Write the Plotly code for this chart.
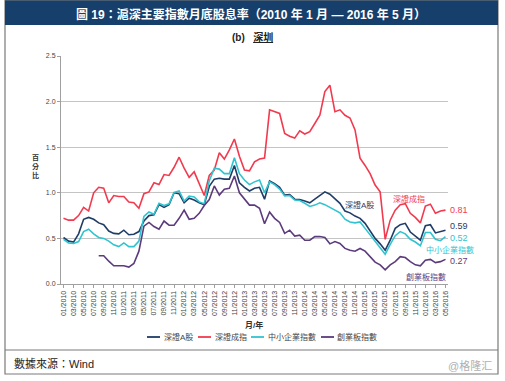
import plotly.graph_objects as go

months = [f"{m:02d}/{y}" for y in range(2010, 2017) for m in range(1, 13)][:77]
tick_labels = months[::2]

sz_a = [0.51, 0.47, 0.46, 0.55, 0.71, 0.73, 0.71, 0.67, 0.65, 0.58,
        0.555, 0.55, 0.59, 0.54, 0.545, 0.575, 0.69, 0.75, 0.76, 0.87,
        0.84, 0.87, 1.00, 0.99, 0.89, 0.94, 0.92, 0.89, 0.87, 1.07,
        1.15, 1.16, 1.15, 1.15, 1.30, 1.11, 1.06, 1.02, 1.05, 1.06,
        0.93, 1.13, 1.10, 1.06, 0.975, 0.98, 0.93, 0.925, 0.91, 0.89,
        0.93, 0.97, 1.01, 0.985, 0.93, 0.885, 0.80, 0.78, 0.745, 0.72,
        0.665, 0.58, 0.50, 0.44, 0.37, 0.48, 0.61, 0.65, 0.665, 0.57,
        0.52, 0.48, 0.64, 0.65, 0.56, 0.575, 0.59]

sz_comp = [0.72, 0.70, 0.70, 0.75, 0.84, 0.80, 1.00, 1.06, 1.05, 0.89,
           0.97, 0.96, 0.96, 0.90, 0.89, 0.83, 0.99, 1.01, 1.11, 1.09,
           1.20, 1.19, 1.28, 1.39, 1.27, 1.17, 1.23, 1.11, 0.97, 1.19,
           1.25, 1.44, 1.37, 1.47, 1.59, 1.40, 1.25, 1.24, 1.34, 1.37,
           1.38, 1.91, 1.89, 1.87, 1.65, 1.62, 1.60, 1.68, 1.645, 1.67,
           1.76, 1.85, 2.11, 2.18, 1.89, 1.91, 1.85, 1.82, 1.69, 1.38,
           1.30, 1.21, 1.085, 1.01, 0.49, 0.70, 0.81, 0.87, 0.88, 0.775,
           0.73, 0.67, 0.855, 0.875, 0.775, 0.80, 0.81]

sme = [0.49, 0.45, 0.445, 0.465, 0.575, 0.60, 0.55, 0.51, 0.50, 0.47,
       0.43, 0.41, 0.45, 0.41, 0.41, 0.47, 0.74, 0.79, 0.765, 0.885,
       0.86, 0.88, 1.005, 1.02, 0.91, 0.965, 0.955, 0.90, 0.88, 1.13,
       1.27, 1.26, 1.21, 1.21, 1.385, 1.21, 1.14, 1.09, 1.12, 1.14,
       1.00, 1.12, 1.09, 1.04, 0.965, 0.97, 0.92, 0.915, 0.885, 0.85,
       0.865, 0.89, 0.87, 0.84, 0.81, 0.78, 0.71, 0.68, 0.67, 0.68,
       0.61, 0.54, 0.46, 0.40, 0.325, 0.435, 0.53, 0.575, 0.55, 0.49,
       0.46, 0.42, 0.565, 0.565, 0.49, 0.475, 0.52]

chinext = [None, None, None, None, None, None, None, 0.31, 0.31, 0.25,
           0.20, 0.20, 0.20, 0.185, 0.225, 0.36, 0.635, 0.675, 0.63, 0.60,
           0.69, 0.645, 0.645, 0.72, 0.81, 0.71, 0.72, 0.775, 0.86, 0.925,
           1.075, 0.975, 1.04, 1.05, 1.185, 1.00, 0.93, 0.865, 0.865, 0.83,
           0.66, 0.79, 0.72, 0.675, 0.555, 0.59, 0.525, 0.535, 0.48, 0.48,
           0.52, 0.52, 0.51, 0.44, 0.465, 0.445, 0.39, 0.37, 0.36, 0.39,
           0.36, 0.30, 0.24, 0.21, 0.155, 0.21, 0.245, 0.30, 0.29, 0.245,
           0.21, 0.20, 0.26, 0.27, 0.235, 0.245, 0.27]

names = ["深證A股", "深證成指", "中小企業指數", "創業板指數"]
colors = ["#1f3d66", "#f23a4f", "#2fc4d0", "#5c3b7c"]
series = [sz_a, sz_comp, sme, chinext]

W, H = 505, 381
ML, MR, MT, MB = 61, 57, 56, 97
PW, PH = W - ML - MR, H - MT - MB


def xp(px):
    return (px - ML) / PW


def yp(py):
    return (H - MB - py) / PH


FONT = "Liberation Sans, Arial, Noto Sans CJK TC, sans-serif"

fig = go.Figure()
for name, col, vals in zip(names, colors, series):
    fig.add_trace(go.Scatter(x=months, y=vals, mode="lines", name=name,
                             line=dict(color=col, width=1.6), showlegend=False,
                             connectgaps=False))

shapes = []
annotations = []

# outer frame, title bar, separator
shapes.append(dict(type="rect", xref="paper", yref="paper", x0=xp(5), x1=xp(498),
                   y0=yp(374), y1=yp(0.5), line=dict(color="#7a7a7a", width=1.2)))
shapes.append(dict(type="rect", xref="paper", yref="paper", x0=xp(5), x1=xp(498),
                   y0=yp(25), y1=yp(0.5), fillcolor="#173f6b", line=dict(width=0)))
shapes.append(dict(type="line", xref="paper", yref="paper", x0=xp(5), x1=xp(498),
                   y0=yp(350), y1=yp(350), line=dict(color="#7a7a7a", width=1.2)))

annotations.append(dict(xref="paper", yref="paper", x=xp(251), y=yp(14),
                        text="<b>圖 19：滬深主要指數月底股息率（2010 年 1 月 — 2016 年 5 月）</b>",
                        showarrow=False, font=dict(size=12, color="white", family=FONT),
                        xanchor="center", yanchor="middle"))
annotations.append(dict(xref="paper", yref="paper", x=xp(252), y=yp(37),
                        text="<b>(b)</b>   <b><span style='text-decoration:underline'>深圳</span></b>",
                        showarrow=False, font=dict(size=10, color="#222", family=FONT),
                        xanchor="center", yanchor="middle"))
annotations.append(dict(xref="paper", yref="paper", x=xp(35), y=yp(166),
                        text="<b>百<br>分<br>比</b>", showarrow=False,
                        font=dict(size=7, color="#333", family=FONT),
                        xanchor="center", yanchor="middle"))
annotations.append(dict(xref="paper", yref="paper", x=xp(254), y=yp(325),
                        text="<b>月/年</b>", showarrow=False,
                        font=dict(size=8, color="#333", family=FONT),
                        xanchor="center", yanchor="middle"))

# series labels inside plot
lbls = [("深證A股", 359, 205, colors[0]), ("深證成指", 409, 199, colors[1]),
        ("中小企業指數", 450, 249.5, colors[2]), ("創業板指數", 426, 277, colors[3])]
for t, x, y, c in lbls:
    annotations.append(dict(xref="paper", yref="paper", x=xp(x), y=yp(y), text=t,
                            showarrow=False, font=dict(size=8, color=c, family=FONT),
                            xanchor="center", yanchor="middle", borderpad=0))

# end-value labels
end_offsets = [0.05, 0.0, -0.02, -0.02]
for vals, c, off in zip(series, colors, end_offsets):
    annotations.append(dict(xref="x", yref="y", x=months[-1], y=vals[-1] + off,
                            text=f"{vals[-1]:.2f}", showarrow=False, xshift=4,
                            font=dict(size=9, color=c, family=FONT),
                            xanchor="left", yanchor="middle", borderpad=0))

# custom legend
leg = [(147, 162), (198, 213), (251, 266), (321, 335)]
for (lx, tx), name, col in zip(leg, names, colors):
    shapes.append(dict(type="line", xref="paper", yref="paper", x0=xp(lx), x1=xp(lx + 13),
                       y0=yp(337), y1=yp(337), line=dict(color=col, width=1.8)))
    annotations.append(dict(xref="paper", yref="paper", x=xp(tx), y=yp(337), text=name,
                            showarrow=False, font=dict(size=8, color="#444", family=FONT),
                            xanchor="left", yanchor="middle"))

annotations.append(dict(xref="paper", yref="paper", x=xp(12), y=yp(363),
                        text="數據來源：Wind", showarrow=False,
                        font=dict(size=11, color="#222", family=FONT),
                        xanchor="left", yanchor="middle"))
annotations.append(dict(xref="paper", yref="paper", x=xp(494), y=yp(365),
                        text="@格隆汇", showarrow=False,
                        font=dict(size=11, color="#b0b0b0", family=FONT),
                        xanchor="right", yanchor="middle"))

fig.update_layout(
    width=W, height=H, margin=dict(l=ML, r=MR, t=MT, b=MB),
    paper_bgcolor="white", plot_bgcolor="white",
    font=dict(family=FONT, color="#333"),
    shapes=shapes, annotations=annotations,
    xaxis=dict(type="category", categoryorder="array", categoryarray=months,
               range=[-0.5, 76.5], tickmode="array", tickvals=tick_labels,
               ticktext=tick_labels, tickangle=-90, tickfont=dict(size=7, color="#444"),
               showgrid=False, showline=True, linecolor="#a0a0a0", linewidth=1,
               ticks="outside", ticklen=3, tickcolor="#a0a0a0", zeroline=False),
    yaxis=dict(range=[0, 2.5], tickvals=[0, 0.5, 1.0, 1.5, 2.0, 2.5],
               ticktext=["0.0", "0.5", "1.0", "1.5", "2.0", "2.5"],
               tickfont=dict(size=7, color="#444"), showgrid=True, gridcolor="#c4c4c4",
               gridwidth=1, showline=True, linecolor="#a0a0a0", linewidth=1,
               ticks="outside", ticklen=3, tickcolor="#a0a0a0", zeroline=False),
)

fig.write_html("out.html", config={"displayModeBar": False},
               post_script="document.body.style.margin='0';document.body.style.overflow='hidden';")
